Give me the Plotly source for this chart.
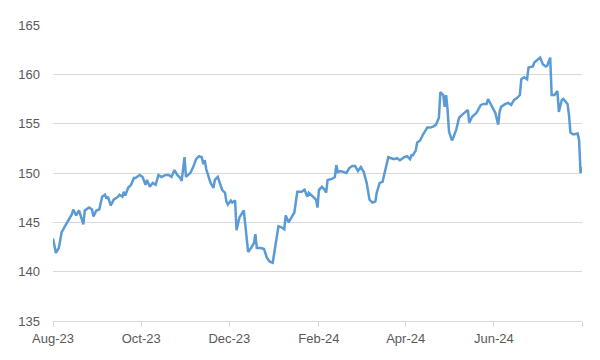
import plotly.graph_objects as go

dates = [
    "2023-08-01", "2023-08-03", "2023-08-05", "2023-08-07", "2023-08-10", "2023-08-12", "2023-08-14", "2023-08-15",
    "2023-08-17", "2023-08-19", "2023-08-20", "2023-08-22", "2023-08-23", "2023-08-26", "2023-08-28", "2023-08-29",
    "2023-08-31", "2023-09-02", "2023-09-04", "2023-09-06", "2023-09-07", "2023-09-08", "2023-09-10", "2023-09-12",
    "2023-09-15", "2023-09-16", "2023-09-18", "2023-09-19", "2023-09-20", "2023-09-22", "2023-09-24", "2023-09-26",
    "2023-09-27", "2023-09-29", "2023-09-30", "2023-10-02", "2023-10-04", "2023-10-05", "2023-10-07", "2023-10-09",
    "2023-10-11", "2023-10-13", "2023-10-15", "2023-10-18", "2023-10-20", "2023-10-22", "2023-10-24", "2023-10-26",
    "2023-10-28", "2023-10-29", "2023-10-31", "2023-11-01", "2023-11-04", "2023-11-06", "2023-11-08", "2023-11-10",
    "2023-11-12", "2023-11-13", "2023-11-14", "2023-11-15", "2023-11-17", "2023-11-18", "2023-11-20", "2023-11-21",
    "2023-11-23", "2023-11-24", "2023-11-26", "2023-11-28", "2023-11-29", "2023-11-30", "2023-12-02", "2023-12-03",
    "2023-12-05", "2023-12-06", "2023-12-08", "2023-12-11", "2023-12-12", "2023-12-14", "2023-12-16", "2023-12-18",
    "2023-12-19", "2023-12-20", "2023-12-23", "2023-12-25", "2023-12-27", "2023-12-29", "2023-12-31", "2024-01-02",
    "2024-01-04", "2024-01-06", "2024-01-08", "2024-01-09", "2024-01-11", "2024-01-13", "2024-01-15", "2024-01-17",
    "2024-01-20", "2024-01-22", "2024-01-24", "2024-01-25", "2024-01-28", "2024-01-30", "2024-01-31", "2024-02-01",
    "2024-02-03", "2024-02-05", "2024-02-06", "2024-02-07", "2024-02-10", "2024-02-12", "2024-02-13", "2024-02-14",
    "2024-02-16", "2024-02-18", "2024-02-20", "2024-02-22", "2024-02-24", "2024-02-26", "2024-02-28", "2024-03-01",
    "2024-03-03", "2024-03-05", "2024-03-07", "2024-03-09", "2024-03-11", "2024-03-12", "2024-03-14", "2024-03-16",
    "2024-03-18", "2024-03-20", "2024-03-22", "2024-03-24", "2024-03-26", "2024-03-28", "2024-03-31", "2024-04-02",
    "2024-04-04", "2024-04-05", "2024-04-06", "2024-04-08", "2024-04-09", "2024-04-11", "2024-04-13", "2024-04-15",
    "2024-04-16", "2024-04-18", "2024-04-20", "2024-04-22", "2024-04-24", "2024-04-25", "2024-04-27", "2024-04-28",
    "2024-04-29", "2024-04-30", "2024-05-01", "2024-05-03", "2024-05-04", "2024-05-06", "2024-05-08", "2024-05-10",
    "2024-05-13", "2024-05-14", "2024-05-15", "2024-05-17", "2024-05-20", "2024-05-21", "2024-05-23", "2024-05-25",
    "2024-05-27", "2024-05-28", "2024-05-30", "2024-05-31", "2024-06-02", "2024-06-04", "2024-06-05", "2024-06-06",
    "2024-06-09", "2024-06-11", "2024-06-13", "2024-06-15", "2024-06-17", "2024-06-19", "2024-06-20", "2024-06-22",
    "2024-06-24", "2024-06-25", "2024-06-28", "2024-06-29", "2024-07-01", "2024-07-03", "2024-07-05", "2024-07-07",
    "2024-07-08", "2024-07-10", "2024-07-11", "2024-07-13", "2024-07-15", "2024-07-16", "2024-07-18", "2024-07-19",
    "2024-07-22", "2024-07-23", "2024-07-24", "2024-07-26", "2024-07-29", "2024-07-30", "2024-07-31", "2024-08-01",
]

values = [
    143.35, 141.9, 142.4, 144.0, 144.8, 145.3, 145.8, 146.3,
    145.7, 146.2, 145.8, 144.8, 146.2, 146.5, 146.3, 145.6,
    146.2, 146.3, 147.6, 147.8, 147.4, 147.6, 146.7, 147.3,
    147.6, 147.8, 147.6, 148.1, 147.7, 148.5, 148.8, 149.5,
    149.5, 149.7, 149.8, 149.6, 148.8, 149.3, 148.6, 149.0,
    148.8, 149.8, 149.6, 149.8, 149.8, 149.6, 150.3, 149.8,
    149.5, 149.2, 151.6, 149.6, 150.0, 150.6, 151.4, 151.7,
    151.6, 150.9, 151.3, 150.4, 149.6, 149.0, 148.5, 149.3,
    149.6, 149.1, 148.3, 148.0, 147.1, 146.8, 147.2, 147.0,
    147.2, 144.2, 145.5, 146.2, 145.0, 142.0, 142.4, 142.9,
    143.8, 142.4, 142.4, 142.3, 141.4, 141.0, 140.9, 143.0,
    144.6, 144.5, 144.3, 145.7, 145.0, 145.5, 146.0, 148.1,
    148.1, 148.3, 147.6, 148.0, 147.6, 147.3, 146.5, 148.3,
    148.6, 148.3, 148.0, 149.3, 149.4, 149.6, 150.8, 150.1,
    150.2, 150.1, 150.0, 150.5, 150.7, 150.7, 150.2, 150.6,
    150.1, 149.0, 147.3, 147.0, 147.1, 148.0, 149.0, 149.1,
    150.3, 151.6, 151.5, 151.4, 151.5, 151.3, 151.6, 151.7,
    151.4, 151.8, 151.8, 152.3, 153.1, 153.3, 153.9, 154.3,
    154.6, 154.6, 154.7, 154.9, 155.6, 158.2, 157.9, 156.7,
    157.9, 156.4, 154.2, 153.3, 153.6, 154.4, 155.6, 155.9,
    156.3, 156.4, 155.1, 155.7, 156.1, 156.4, 156.9, 157.0,
    157.0, 157.5, 157.0, 156.7, 156.1, 154.9, 156.2, 156.7,
    157.0, 157.1, 156.9, 157.4, 157.6, 157.9, 159.5, 159.7,
    159.5, 160.7, 160.8, 161.2, 161.5, 161.7, 161.0, 160.8,
    160.9, 161.7, 157.9, 157.9, 158.3, 156.2, 157.4, 157.5,
    157.0, 155.9, 154.1, 153.9, 154.0, 153.3, 150.0, 150.6,
]

y_ticks = [135, 140, 145, 150, 155, 160, 165]

fig = go.Figure()
fig.add_trace(go.Scatter(
    x=dates, y=values, mode="lines",
    line=dict(color="#5B9BD5", width=2.5),
    hoverinfo="skip", showlegend=False, cliponaxis=False,
))

font_color = "#595959"
fig.update_layout(
    width=592, height=352,
    margin=dict(l=40, r=18, t=10, b=39),
    paper_bgcolor="white", plot_bgcolor="white",
    font=dict(family="Liberation Sans, Arial, sans-serif", size=13, color=font_color),
    xaxis=dict(
        type="date",
        range=["2023-08-01", "2024-08-01"],
        tick0="2023-08-01", dtick="M2", tickformat="%b-%y",
        showgrid=False, zeroline=False,
        showline=True, linecolor="#D9D9D9", linewidth=1,
        ticks="outside", ticklen=5, tickcolor="#D9D9D9",
        tickfont=dict(size=13, color=font_color),
    ),
    yaxis=dict(
        range=[135, 165], tickvals=y_ticks,
        showgrid=True, gridcolor="#D9D9D9", gridwidth=1,
        zeroline=False, showline=False, ticks="",
        ticklabelstandoff=12,
        tickfont=dict(size=13, color=font_color),
    ),
)

fig.write_html("out.html")
